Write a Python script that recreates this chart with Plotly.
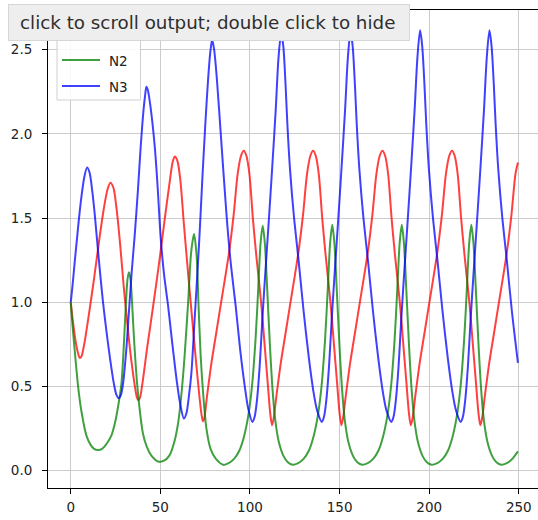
import plotly.graph_objects as go

# Population trajectories of the three species (time, abundance)
t_n1 = [0, 1.5, 3, 4, 5, 6, 7.5, 10, 13, 16, 18.5, 20.5, 22.1, 23.8, 25.5, 27.5, 29.5, 31.5, 33.5, 35.5, 36.8, 37.6,
        38.5, 40, 42.5, 46, 49.5, 52.5, 55, 56.8, 58, 59.5, 61.2, 63, 65, 67.5, 69.8, 71.8, 73, 73.8,
        74.5, 76, 78.5, 81.5, 83.9, 86.5, 88.5, 90.9, 93.1, 95, 96.5, 98, 99.7, 101.6, 103.5, 106.2, 108, 109.9, 111.3, 112.3,
        113.2, 114.7, 117.2, 120.2, 122.6, 125.2, 127.2, 129.6, 131.8, 133.7, 135.2, 136.7, 138.4, 140.3, 142.2, 144.9, 146.7, 148.6, 150, 151,
        151.9, 153.4, 155.9, 158.9, 161.3, 163.9, 165.9, 168.3, 170.5, 172.4, 173.9, 175.4, 177.1, 179, 180.9, 183.6, 185.4, 187.3, 188.7, 189.7,
        190.7, 192.2, 194.7, 197.7, 200.1, 202.7, 204.7, 207.1, 209.3, 211.2, 212.7, 214.2, 215.9, 217.8, 219.7, 222.4, 224.2, 226.1, 227.5, 228.5,
        229.5, 231, 233.5, 236.5, 238.9, 241.5, 243.5, 245.9, 248.1, 249.5]
n1 = [1.00, 0.86, 0.75, 0.70, 0.67, 0.68, 0.75, 0.92, 1.14, 1.38, 1.56, 1.67, 1.71, 1.68, 1.56, 1.35, 1.10, 0.88, 0.68, 0.52, 0.44, 0.42,
      0.43, 0.52, 0.72, 0.98, 1.25, 1.50, 1.70, 1.83, 1.866, 1.84, 1.72, 1.48, 1.23, 0.93, 0.66, 0.44, 0.33, 0.293,
      0.31, 0.44, 0.64, 0.84, 1.00, 1.17, 1.31, 1.52, 1.76, 1.87, 1.90, 1.87, 1.76, 1.50, 1.28, 1.00, 0.77, 0.52, 0.34, 0.27,
      0.31, 0.44, 0.64, 0.84, 1.00, 1.17, 1.31, 1.52, 1.76, 1.87, 1.90, 1.87, 1.76, 1.50, 1.28, 1.00, 0.77, 0.52, 0.34, 0.27,
      0.31, 0.44, 0.64, 0.84, 1.00, 1.17, 1.31, 1.52, 1.76, 1.87, 1.90, 1.87, 1.76, 1.50, 1.28, 1.00, 0.77, 0.52, 0.34, 0.27,
      0.31, 0.44, 0.64, 0.84, 1.00, 1.17, 1.31, 1.52, 1.76, 1.87, 1.90, 1.87, 1.76, 1.50, 1.28, 1.00, 0.77, 0.52, 0.34, 0.27,
      0.31, 0.44, 0.64, 0.84, 1.00, 1.17, 1.31, 1.52, 1.76, 1.83]

t_n2 = [0, 1, 2.5, 4.1, 6, 8.7, 11, 13, 15.2, 17.5, 20, 22.7, 25, 27, 28.3, 29.5, 30.7, 31.7, 32.5, 33.3, 34.3, 35.2, 37, 38.5,
        40.3, 42.5, 45, 48.7, 52, 55, 58, 60, 61.8, 63.5, 65.5, 67.2, 68.8, 70.2, 71.3, 72.5, 74, 75.7, 78, 81,
        85.1, 88.1, 91.1, 94.1, 96.6, 99.1, 101.1, 103.1, 104.6, 105.9, 107.1, 108.3, 109.6, 111.1, 112.6, 114.1, 116.1, 118.6, 121.1, 123.8,
        126.9, 129.9, 132.9, 135.4, 137.9, 139.9, 141.9, 143.4, 144.7, 145.9, 147.1, 148.4, 149.9, 151.4, 152.9, 154.9, 157.4, 159.9, 162.6,
        165.7, 168.7, 171.7, 174.2, 176.7, 178.7, 180.7, 182.2, 183.5, 184.7, 185.9, 187.2, 188.7, 190.2, 191.7, 193.7, 196.2, 198.7, 201.4,
        204.5, 207.5, 210.5, 213, 215.5, 217.5, 219.5, 221, 222.3, 223.5, 224.7, 226, 227.5, 229, 230.5, 232.5, 235, 237.5, 240.2,
        243.3, 246.3, 249.5]
n2 = [1.00, 0.86, 0.68, 0.50, 0.35, 0.21, 0.155, 0.13, 0.123, 0.13, 0.16, 0.21, 0.30, 0.42, 0.52, 0.72, 0.98, 1.14, 1.178, 1.14, 0.98, 0.80, 0.52, 0.36,
      0.22, 0.14, 0.09, 0.055, 0.06, 0.09, 0.18, 0.29, 0.46, 0.68, 1.00, 1.30, 1.405, 1.28, 0.98, 0.68, 0.44, 0.25, 0.13, 0.07,
      0.035, 0.045, 0.07, 0.12, 0.20, 0.33, 0.50, 0.78, 1.08, 1.35, 1.455, 1.35, 1.08, 0.75, 0.48, 0.30, 0.17, 0.09, 0.05, 0.035,
      0.045, 0.07, 0.12, 0.20, 0.33, 0.50, 0.78, 1.08, 1.35, 1.46, 1.35, 1.08, 0.75, 0.48, 0.30, 0.17, 0.09, 0.05, 0.035,
      0.045, 0.07, 0.12, 0.20, 0.33, 0.50, 0.78, 1.08, 1.35, 1.46, 1.35, 1.08, 0.75, 0.48, 0.30, 0.17, 0.09, 0.05, 0.035,
      0.045, 0.07, 0.12, 0.20, 0.33, 0.50, 0.78, 1.08, 1.35, 1.46, 1.35, 1.08, 0.75, 0.48, 0.30, 0.17, 0.09, 0.05, 0.035,
      0.045, 0.07, 0.115]

t_n3 = [0, 1, 2.3, 3.5, 4.6, 6, 7.5, 9.1, 10.5, 12, 13.4, 15, 16.5, 18, 20, 22, 24, 25.5, 26.8, 28, 29.2, 31, 32.5, 34,
        35.7, 37.5, 39, 40.5, 41.5, 42.2, 43, 44.5, 46.9, 48.5, 50.2, 52, 54.3, 56.5, 59.3, 61, 63.1, 64.5, 66, 67.3,
        69.4, 71.6, 73.5, 75.2, 76.6, 77.8, 78.9, 80, 81.5, 83.7, 86.9, 89.1, 92.1, 94.5, 97.1, 99,
        101.4, 102.6, 103.9, 105.4, 106.9, 108.4, 110.4, 112.4, 114.4, 115.9, 117.4, 118.6, 119.9, 120.9, 122.4, 124.6, 127.1, 129.9, 132.9, 135.4, 137.4,
        140.1, 141.3, 142.6, 144.1, 145.6, 147.1, 149.1, 151.1, 153.1, 154.6, 156.1, 157.3, 158.6, 159.6, 161.1, 163.3, 165.8, 168.6, 171.6, 174.1, 176.1,
        178.9, 180.1, 181.4, 182.9, 184.4, 185.9, 187.9, 189.9, 191.9, 193.4, 194.9, 196.1, 197.4, 198.4, 199.9, 202.1, 204.6, 207.4, 210.4, 212.9, 214.9,
        217.6, 218.8, 220.1, 221.6, 223.1, 224.6, 226.6, 228.6, 230.6, 232.1, 233.6, 234.8, 236.1, 237.1, 238.6, 240.8, 243.3, 246.1, 249.5]
n3 = [1.00, 1.10, 1.25, 1.38, 1.50, 1.63, 1.74, 1.80, 1.77, 1.66, 1.52, 1.33, 1.16, 1.00, 0.82, 0.66, 0.52, 0.45, 0.43, 0.45, 0.52, 0.72, 0.95, 1.18,
      1.40, 1.67, 1.92, 2.13, 2.23, 2.28, 2.26, 2.16, 1.92, 1.68, 1.38, 1.17, 0.98, 0.77, 0.52, 0.40, 0.31, 0.34, 0.45, 0.58,
      0.95, 1.35, 1.75, 2.08, 2.32, 2.48, 2.56, 2.50, 2.33, 2.00, 1.52, 1.25, 0.97, 0.72, 0.50, 0.37,
      0.29, 0.32, 0.42, 0.62, 0.90, 1.15, 1.47, 1.80, 2.15, 2.45, 2.60, 2.52, 2.28, 2.05, 1.78, 1.50, 1.25, 0.95, 0.665, 0.47, 0.36,
      0.29, 0.32, 0.42, 0.62, 0.90, 1.15, 1.47, 1.80, 2.15, 2.45, 2.61, 2.52, 2.28, 2.05, 1.78, 1.50, 1.25, 0.95, 0.665, 0.47, 0.36,
      0.29, 0.32, 0.42, 0.62, 0.90, 1.15, 1.47, 1.80, 2.15, 2.45, 2.615, 2.52, 2.28, 2.05, 1.78, 1.50, 1.25, 0.95, 0.665, 0.47, 0.36,
      0.29, 0.32, 0.42, 0.62, 0.90, 1.15, 1.47, 1.80, 2.15, 2.45, 2.615, 2.52, 2.28, 2.05, 1.78, 1.50, 1.25, 0.95, 0.64]

names = ["N1", "N2", "N3"]
colors = ["rgba(255,0,0,0.75)", "rgba(0,128,0,0.75)", "rgba(0,0,255,0.75)"]
x_ticks = [0, 50, 100, 150, 200, 250]
y_ticks = [0.0, 0.5, 1.0, 1.5, 2.0, 2.5]

W, H = 538, 520
ML, MR, MT, MB = 48, 0, 10, 32
PW, PH = W - ML - MR, H - MT - MB


def px(x):
    return (x - ML) / PW


def py(y):
    return (H - MB - y) / PH


fig = go.Figure()
for tx, vals, name, col in zip([t_n1, t_n2, t_n3], [n1, n2, n3], names, colors):
    fig.add_trace(go.Scatter(x=tx, y=vals, mode="lines", name=name, showlegend=False,
                             line=dict(color=col, width=2, shape="spline", smoothing=0.8)))

font = dict(family="DejaVu Sans", size=13.5, color="#222222")
axis_common = dict(showgrid=True, gridcolor="#cccccc", gridwidth=1.2, zeroline=False,
                   showline=True, linecolor="black", linewidth=1, ticks="outside",
                   ticklen=5, tickcolor="black", tickwidth=1, tickfont=font)

fig.update_xaxes(range=[-12.7, 260.7], tickvals=x_ticks, mirror=True, ticklabelstandoff=2, **axis_common)
fig.update_yaxes(range=[-0.1025, 2.7355], tickvals=y_ticks, tickformat=".1f", ticklabelstandoff=7,
                 **axis_common)

# legend frame and entries (the N1 row sits beneath the hint box)
shapes = [dict(type="rect", xref="paper", yref="paper", x0=px(57), x1=px(140.5), y0=py(100), y1=py(17),
               line=dict(color="#d0d0d0", width=1), fillcolor="rgba(255,255,255,0.85)", layer="above")]
annotations = []
for i, (name, col) in enumerate(zip(names, colors)):
    yy = 34 + 26 * i
    shapes.append(dict(type="line", xref="paper", yref="paper", x0=px(62), x1=px(100), y0=py(yy), y1=py(yy),
                       line=dict(color=col, width=2), layer="above"))
    if i > 0:
        annotations.append(dict(text=name, xref="paper", yref="paper", x=px(107), y=py(yy + 1), xanchor="left",
                                yanchor="middle", showarrow=False, font=font))

# output-scroll hint box
annotations.append(dict(text=" ", xref="paper", yref="paper", x=px(9), y=py(6), xanchor="left", yanchor="top",
                        showarrow=False, width=401, height=35, bgcolor="rgba(0,0,0,0.10)", borderpad=0,
                        borderwidth=0))
annotations.append(dict(text=" ", xref="paper", yref="paper", x=px(7.5), y=py(4), xanchor="left", yanchor="top",
                        showarrow=False, width=400, height=34.5, bgcolor="#eeeeee", bordercolor="#d6d6d6",
                        borderwidth=1, borderpad=0))
annotations.append(dict(text="click to scroll output; double click to hide", xref="paper", yref="paper",
                        x=px(18), y=py(22.5), xanchor="left", yanchor="middle", showarrow=False,
                        font=dict(family="DejaVu Sans", size=18.3, color="#2e2e2e")))

fig.update_layout(width=W, height=H, margin=dict(l=ML, r=MR, t=MT, b=MB), paper_bgcolor="white",
                  plot_bgcolor="white", shapes=shapes, annotations=annotations, showlegend=False)
fig.write_html("out.html")
